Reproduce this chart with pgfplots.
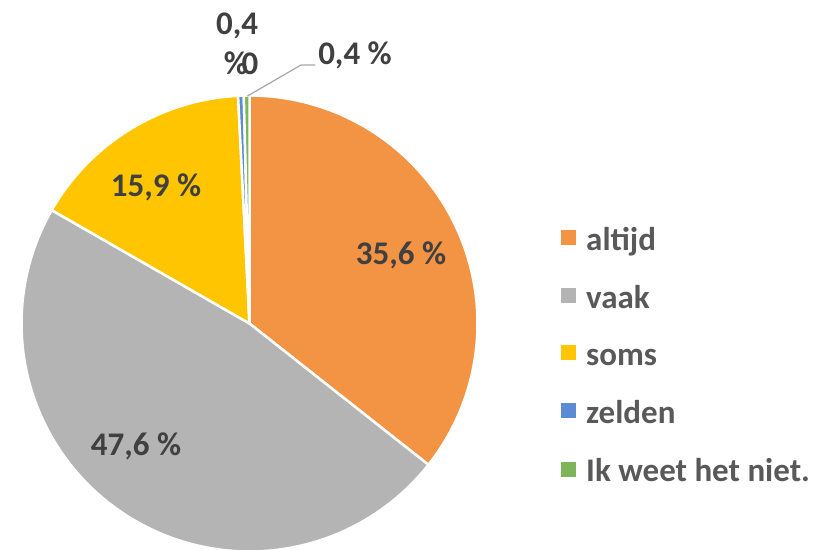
\documentclass[border=0pt]{standalone}
\usepackage{pgfplots}
\pgfplotsset{compat=1.18}
\usepackage{fontspec}
\setmainfont{Carlito}
\definecolor{cAltijd}{HTML}{F39444}
\definecolor{cVaak}{HTML}{B4B4B4}
\definecolor{cSoms}{HTML}{FFC600}
\definecolor{cZelden}{HTML}{5B8BD5}
\definecolor{cNiet}{HTML}{7CB55A}
\definecolor{lbl}{HTML}{404040}
\definecolor{leg}{HTML}{595959}
\definecolor{leader}{HTML}{A6A6A6}
\tikzset{bigtxt/.style={font=\bfseries\fontsize{33}{40}\selectfont}}
% slice angles (degrees) from the shares 35.6, 47.6, 15.9, 0.4, 0.4 (total 99.9), clockwise from 90
\begin{document}
\begin{tikzpicture}
\useasboundingbox (0,0) rectangle (830pt,549pt);
\begin{axis}[
  at={(0,0)}, anchor=origin,
  scale only axis, width=830pt, height=549pt,
  xmin=0, xmax=830, ymin=0, ymax=549,
  hide axis, clip=false,
]
% wedges: center (249.5,225.5), radius 228
\addplot[fill=cAltijd, draw=white, line width=2.5pt, line join=round, domain=-38.29:90, samples=150]
  ({249.5+228*cos(x)},{225.5+228*sin(x)}) -- (axis cs:249.5,225.5) -- cycle;
\addplot[fill=cVaak, draw=white, line width=2.5pt, line join=round, domain=-209.82:-38.29, samples=200]
  ({249.5+228*cos(x)},{225.5+228*sin(x)}) -- (axis cs:249.5,225.5) -- cycle;
\addplot[fill=cSoms, draw=white, line width=2.5pt, line join=round, domain=-267.12:-209.82, samples=80]
  ({249.5+228*cos(x)},{225.5+228*sin(x)}) -- (axis cs:249.5,225.5) -- cycle;
\addplot[fill=cZelden, draw=white, line width=2.5pt, line join=round, domain=-268.56:-267.12, samples=5]
  ({249.5+228*cos(x)},{225.5+228*sin(x)}) -- (axis cs:249.5,225.5) -- cycle;
\addplot[fill=cNiet, draw=white, line width=2.5pt, line join=round, domain=-270:-268.56, samples=5]
  ({249.5+228*cos(x)},{225.5+228*sin(x)}) -- (axis cs:249.5,225.5) -- cycle;
% leader line
\addplot[leader, line width=1.2pt, mark=none] coordinates {(247.5,453) (301,484) (315,484)};
% data labels
\node[bigtxt, lbl, anchor=base] at (axis cs:401,284) {35,6 \%};
\node[bigtxt, lbl, anchor=base] at (axis cs:136,94) {47,6 \%};
\node[bigtxt, lbl, anchor=base] at (axis cs:156,352) {15,9 \%};
\node[bigtxt, lbl, anchor=base] at (axis cs:237,514) {0,4};
\node[bigtxt, lbl, anchor=base] at (axis cs:236,474) {\%};
\node[bigtxt, lbl, anchor=base] at (axis cs:250,474) {0};
\node[bigtxt, lbl, anchor=base] at (axis cs:355,484) {0,4 \%};
% legend
\addplot[only marks, mark=square*, mark size=7pt, color=cAltijd, mark options={line width=0pt}] coordinates {(568,311)};
\addplot[only marks, mark=square*, mark size=7pt, color=cVaak, mark options={line width=0pt}] coordinates {(568,253.5)};
\addplot[only marks, mark=square*, mark size=7pt, color=cSoms, mark options={line width=0pt}] coordinates {(568,196)};
\addplot[only marks, mark=square*, mark size=7pt, color=cZelden, mark options={line width=0pt}] coordinates {(568,138.5)};
\addplot[only marks, mark=square*, mark size=7pt, color=cNiet, mark options={line width=0pt}] coordinates {(568,79.5)};
\node[bigtxt, leg, anchor=base west, inner sep=0pt] at (axis cs:586,298) {altijd};
\node[bigtxt, leg, anchor=base west, inner sep=0pt] at (axis cs:586,240.5) {vaak};
\node[bigtxt, leg, anchor=base west, inner sep=0pt] at (axis cs:586,183) {soms};
\node[bigtxt, leg, anchor=base west, inner sep=0pt] at (axis cs:586,125) {zelden};
\node[bigtxt, leg, anchor=base west, inner sep=0pt] at (axis cs:586,67.5) {Ik weet het niet.};
\end{axis}
\end{tikzpicture}
\end{document}
